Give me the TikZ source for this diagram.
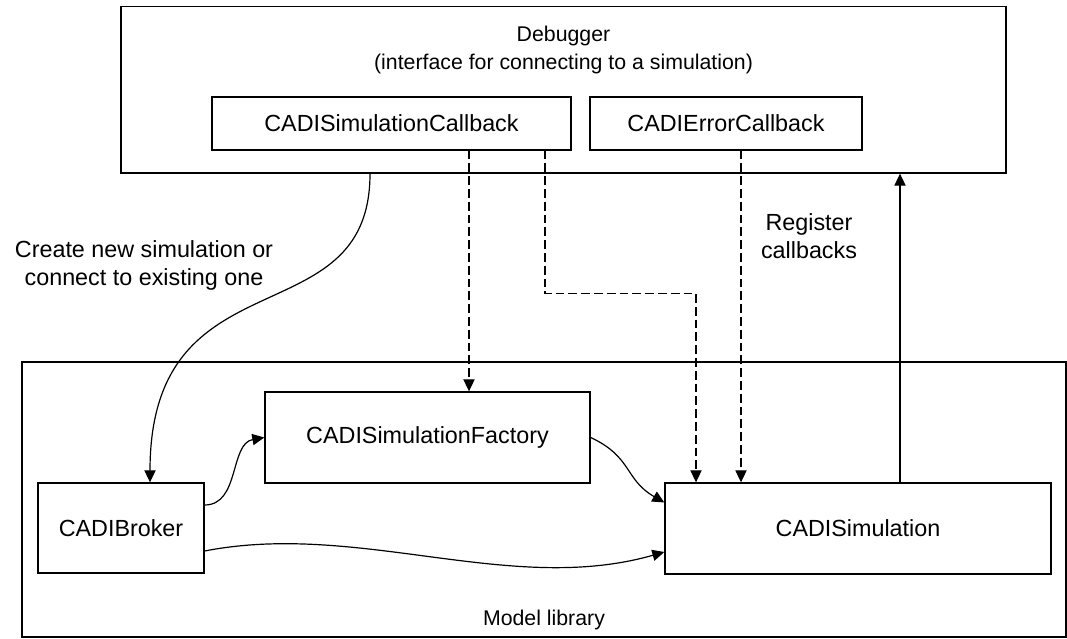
\documentclass[tikz,border=0pt]{standalone}
\usepackage{fontspec}
\setmainfont{Liberation Sans}
\usetikzlibrary{arrows.meta,positioning,calc}
\newcommand{\bigtxt}{\fontsize{16.6}{19.9}\selectfont}
\newcommand{\smalltxt}{\fontsize{15.15}{19.7}\selectfont}
\tikzset{
  >={Triangle[length=3mm,width=2.8mm]},
  rectnode/.style args={#1,#2}{
  draw=black,
  line width=0.95pt,
  inner sep=0pt,
  font=\bigtxt,
  minimum width=#1 cm,
  minimum height=#2 cm,
  },
  dsh/.style={dash pattern=on 2.2mm off 1mm},
  lbl/.style={align=center,inner sep=0pt}
}
\begin{document}
\begin{tikzpicture}[line width=0.85pt]
  \useasboundingbox (0,0) rectangle (26.675,15.975);

  % debugger side
  \node [rectnode={22.125,4.16}] (dbg) at (14.0875,13.73) {};
  \node [lbl,font=\smalltxt,below=0.5cm of dbg.north] (dbgtxt) {Debugger\\(interface for connecting to a simulation)};
  \node [rectnode={8.975,1.325}] (cbsim) at (9.7875,12.8875) {CADISimulationCallback};
  \node [rectnode={6.8,1.325}] (cberr) at (18.15,12.8875) {CADIErrorCallback};

  % model library
  \node [rectnode={26.1,6.875}] (lib) at (13.6,3.4875) {};
  \node [lbl,font=\smalltxt,above=0.19cm of lib.south] (libtxt) {Model library};
  \node [rectnode={8.125,2.275}] (fac) at (10.6875,5.0375) {CADISimulationFactory};
  \node [rectnode={4.15,2.25}] (brk) at (3.025,2.775) {CADIBroker};
  \node [rectnode={9.65,2.275}] (sim) at (21.45,2.7625) {CADISimulation};

  \node [lbl,font=\bigtxt] (create) at (3.6,9.35) {Create new simulation or\\connect to existing one};
  \node [lbl,font=\bigtxt] (reg) at (20.225,10.06) {Register\\callbacks};

  \coordinate (p1) at ([xshift=1.9375cm]cbsim.south);
  \coordinate (p2) at ([xshift=0.375cm]cberr.south);
  \coordinate (p3) at ([xshift=1.05cm]sim.north);

  \draw[->] ([xshift=-4.8375cm]dbg.south) .. controls +(0,-4.175) and +(0,5.825) .. ([xshift=0.725cm]brk.north);
  \draw[->] ([yshift=0.575cm]brk.east) to[out=0,in=190] (fac.west);
  \draw[->] (fac.east) to[out=-25,in=150,looseness=1.2] ([yshift=0.65cm]sim.west);
  \draw[->] ([yshift=-0.575cm]brk.east) .. controls +(3.85,0.75) and +(-3.85,-1.1) .. ([yshift=-0.5875cm]sim.west);

  \draw[->,dsh] (p1) -- (p1 |- fac.north);
  \draw[->,dsh] ([xshift=3.8375cm]cbsim.south) -- ++(0,-3.575) -| ([xshift=-4.05cm]sim.north);
  \draw[->,dsh] (p2) -- (p2 |- sim.north);
  \draw[->] (p3) -- (p3 |- dbg.south);
\end{tikzpicture}
\end{document}
